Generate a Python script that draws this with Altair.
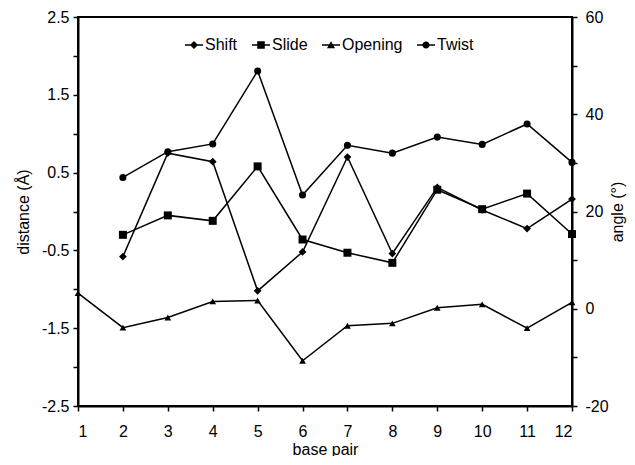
import altair as alt
import pandas as pd

# ---- data ----
base_pair = list(range(1, 13))
series_names = ["Shift", "Slide", "Opening", "Twist"]
shift = [None, -0.58, 0.75, 0.64, -1.02, -0.52, 0.70, -0.54, 0.31, 0.02, -0.22, 0.16]
slide = [None, -0.30, -0.05, -0.12, 0.58, -0.36, -0.53, -0.66, 0.28, 0.03, 0.23, -0.29]
opening = [3.2, -3.9, -1.8, 1.5, 1.7, -10.7, -3.5, -3.0, 0.2, 0.9, -4.0, 1.3]
twist = [None, 27.0, 32.3, 33.9, 48.9, 23.4, 33.6, 32.0, 35.3, 33.8, 38.0, 30.1]

left_ticks = [-2.5, -2.0, -1.5, -1.0, -0.5, 0.0, 0.5, 1.0, 1.5, 2.0, 2.5]
right_ticks = [-20, -10, 0, 10, 20, 30, 40, 50, 60]


def long_form(names, arrays):
    rows = []
    for n, arr in zip(names, arrays):
        for x, v in zip(base_pair, arr):
            if v is not None:
                rows.append({"bp": x, "series": n, "value": v})
    return pd.DataFrame(rows)


left_df = long_form(["Shift", "Slide"], [shift, slide])
right_df = long_form(["Opening", "Twist"], [opening, twist])

FONT = "Liberation Sans"

x_enc = alt.X(
    "bp:Q",
    scale=alt.Scale(domain=[1, 12], nice=False, zero=False),
    axis=alt.Axis(values=base_pair, format="d", title="base pair",
                  labelPadding=12, titlePadding=2),
)
yl_enc = alt.Y(
    "value:Q",
    scale=alt.Scale(domain=[-2.5, 2.5], nice=False, zero=False),
    axis=alt.Axis(
        values=left_ticks,
        labelExpr="abs(datum.value*2) % 2 == 1 ? toString(datum.value) : ''",
        title="distance (Å)", labelPadding=4, titlePadding=10,
    ),
)
yr_enc = alt.Y(
    "value:Q",
    scale=alt.Scale(domain=[-20, 60], nice=False, zero=False),
    axis=alt.Axis(
        orient="right",
        values=right_ticks,
        labelExpr="datum.value % 20 == 0 ? toString(datum.value) : ''",
        title="angle (°)", titleAngle=-90, titleBaseline="top",
        labelPadding=8, titlePadding=1,
    ),
)

MSIZE = {"Shift": 60, "Slide": 64, "Opening": 45, "Twist": 50}
MSHAPE = {"Shift": "diamond", "Slide": "square", "Opening": "triangle-up", "Twist": "circle"}


def series_layers(df, y_enc, names):
    lines = alt.Chart(df).mark_line(color="black", strokeWidth=1.5).encode(
        x=x_enc, y=y_enc, detail="series:N"
    )
    layers = [lines]
    for n in names:
        pts = alt.Chart(df).transform_filter(alt.datum.series == n).mark_point(
            shape=MSHAPE[n], filled=True, color="black", opacity=1, size=MSIZE[n]
        ).encode(x=x_enc, y=y_enc)
        layers.append(pts)
    return layers


# legend symbols: thin bar (line) with marker, custom paths in [-1,1] units
line_seg = "M-1,-0.08L1,-0.08L1,0.08L-1,0.08Z"
legend_paths = [
    line_seg + "M0,-0.45L0.45,0L0,0.45L-0.45,0Z",
    line_seg + "M-0.42,-0.42L0.42,-0.42L0.42,0.42L-0.42,0.42Z",
    line_seg + "M0,-0.42L0.45,0.36L-0.45,0.36Z",
    line_seg + "M0.4,0A0.4,0.4,0,1,1,-0.4,0A0.4,0.4,0,1,1,0.4,0Z",
]

legend_layer = alt.Chart(left_df).transform_filter("false").mark_point(
    filled=True, color="black"
).encode(
    x=x_enc,
    y=yl_enc,
    shape=alt.Shape(
        "series:N",
        scale=alt.Scale(domain=series_names, range=legend_paths),
        legend=alt.Legend(
            title=None, orient="none", direction="horizontal",
            legendX=107, legendY=19, padding=0,
            symbolSize=324, symbolFillColor="black", symbolStrokeColor="black",
            symbolStrokeWidth=0, symbolOpacity=1,
            labelFont=FONT, labelFontSize=16, labelColor="black",
            labelOffset=2, columnPadding=14,
        ),
    ),
)

left = alt.layer(*series_layers(left_df, yl_enc, ["Shift", "Slide"]), legend_layer)
right = alt.layer(*series_layers(right_df, yr_enc, ["Opening", "Twist"]))

chart = (
    alt.layer(left, right)
    .resolve_scale(y="independent")
    .properties(
        width=494, height=389,
        autosize=alt.AutoSizeParams(type="none"),
        padding={"left": 70, "top": 9, "right": 55, "bottom": 50},
        background="white",
    )
    .configure_view(stroke="black", strokeWidth=2)
    .configure_axis(
        grid=False, domainColor="black", domainWidth=2, tickColor="black",
        tickWidth=1.5, tickSize=5, labelFont=FONT, labelFontSize=16,
        labelColor="black", titleFont=FONT, titleFontSize=16,
        titleFontWeight="normal", titleColor="black",
    )
)

chart.save("out.html", embed_options={"renderer": "svg", "actions": False})
